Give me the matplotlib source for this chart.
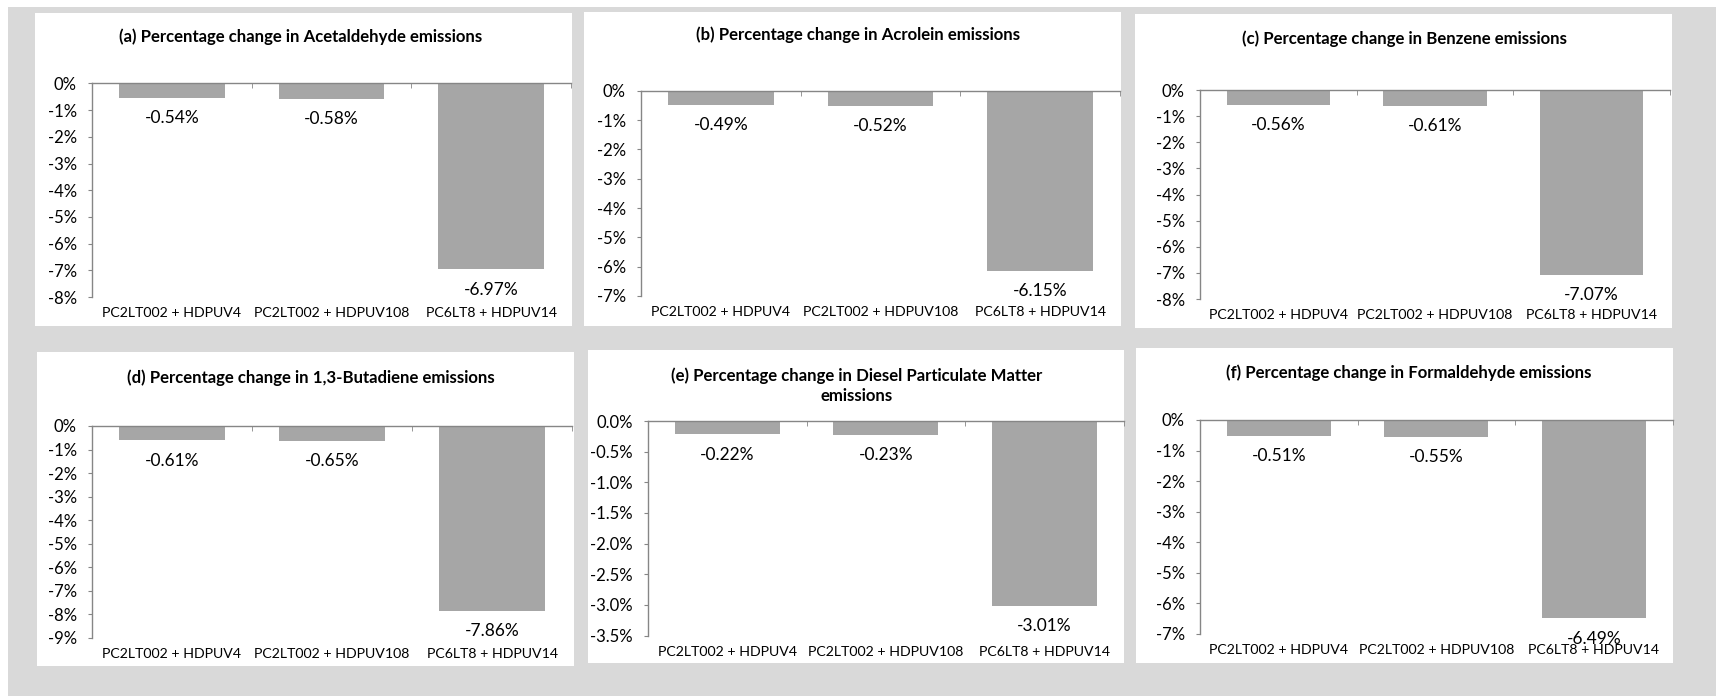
import matplotlib
matplotlib.use("Agg")
import matplotlib.pyplot as plt
from matplotlib.patches import Rectangle

plt.rcParams['font.family'] = ['Lato', 'DejaVu Sans']

W, H = 1716, 696
DPI = 100

categories = ["PC2LT002 + HDPUV4", "PC2LT002 + HDPUV108", "PC6LT8 + HDPUV14"]

titles = [
    "(a) Percentage change in Acetaldehyde emissions",
    "(b) Percentage change in Acrolein emissions",
    "(c) Percentage change in Benzene emissions",
    "(d) Percentage change in 1,3-Butadiene emissions",
    "(e) Percentage change in Diesel Particulate Matter\nemissions",
    "(f) Percentage change in Formaldehyde emissions",
]

acetaldehyde = [-0.54, -0.58, -6.97]
acrolein = [-0.49, -0.52, -6.15]
benzene = [-0.56, -0.61, -7.07]
butadiene = [-0.61, -0.65, -7.86]
diesel_pm = [-0.22, -0.23, -3.01]
formaldehyde = [-0.51, -0.55, -6.49]
series = [acetaldehyde, acrolein, benzene, butadiene, diesel_pm, formaldehyde]

y_min = [-8, -7, -8, -9, -3.5, -7]
y_step = [1, 1, 1, 1, 0.5, 1]
y_fmt = ["{:.0f}%", "{:.0f}%", "{:.0f}%", "{:.0f}%", "{:.1f}%", "{:.0f}%"]

# layout in pixels: white box (x0, x1, y0, y1), plot area (x0, x1, y_top, y_bottom), title centre
boxes = [(34.5, 572, 12.7, 326), (583.8, 1120.8, 11.7, 325.7), (1134.6, 1671.5, 14, 328),
         (37, 574, 351.7, 666), (587.6, 1124, 350, 663), (1136, 1672.7, 348, 662.7)]
plots = [(92, 571, 83.4, 297), (641, 1120, 90.8, 296), (1200, 1670, 90, 299),
         (92, 572, 426, 638), (648, 1123.5, 421, 635.6), (1200, 1672.6, 420, 634)]
title_pos = [(301, 37), (858, 35), (1405, 38.4), (311, 377.4), (857, 386), (1409, 373)]

bg_color = "#d9d9d9"
bar_color = "#a6a6a6"
axis_color = "#868686"

fig = plt.figure(figsize=(W / DPI, H / DPI), dpi=DPI)
fig.patches.append(Rectangle((8 / W, 0), 1, 1 - 7 / H, transform=fig.transFigure,
                             facecolor=bg_color, edgecolor="none", zorder=-2))

for i in range(6):
    bx0, bx1, by0, by1 = boxes[i]
    fig.patches.append(Rectangle((bx0 / W, 1 - by1 / H), (bx1 - bx0) / W, (by1 - by0) / H,
                                 transform=fig.transFigure, facecolor="white",
                                 edgecolor="none", zorder=-1))
    px0, px1, py0, py1 = plots[i]
    ax = fig.add_axes([px0 / W, 1 - py1 / H, (px1 - px0) / W, (py1 - py0) / H])
    ax.patch.set_alpha(0)

    vals = series[i]
    xs = list(range(len(categories)))
    ax.bar(xs, vals, width=0.66, color=bar_color, zorder=2)
    for x, v in zip(xs, vals):
        ax.annotate(f"{v:.2f}%", (x, v), xytext=(0, -14.5), textcoords="offset points",
                    ha="center", va="center", fontsize=12.5)

    ax.set_xlim(-0.5, 2.5)
    ax.set_ylim(y_min[i], 0)
    n = int(round(-y_min[i] / y_step[i]))
    ticks = [-k * y_step[i] for k in range(n + 1)]
    ax.set_yticks(ticks, labels=[y_fmt[i].format(abs(t)) if t == 0 else y_fmt[i].format(t)
                                 for t in ticks])

    ax.set_xticks(xs, labels=categories)
    ax.set_xticks([-0.5, 0.5, 1.5, 2.5], minor=True)
    ax.tick_params(axis="x", which="major", length=0, pad=7.5, labelsize=10.2)
    ax.tick_params(axis="x", which="minor", bottom=False, top=True, direction="in",
                   length=3.5, color=axis_color)
    ax.tick_params(axis="y", length=3, color=axis_color, pad=8, labelsize=12)

    for side in ("right", "bottom"):
        ax.spines[side].set_visible(False)
    for side in ("top", "left"):
        ax.spines[side].set_color(axis_color)
        ax.spines[side].set_linewidth(1.0)

    tx, ty = title_pos[i]
    fig.text(tx / W, 1 - ty / H, titles[i], ha="center", va="center",
             fontsize=12.1, fontweight="bold", linespacing=1.3)

fig.savefig("out.png", dpi=DPI)
